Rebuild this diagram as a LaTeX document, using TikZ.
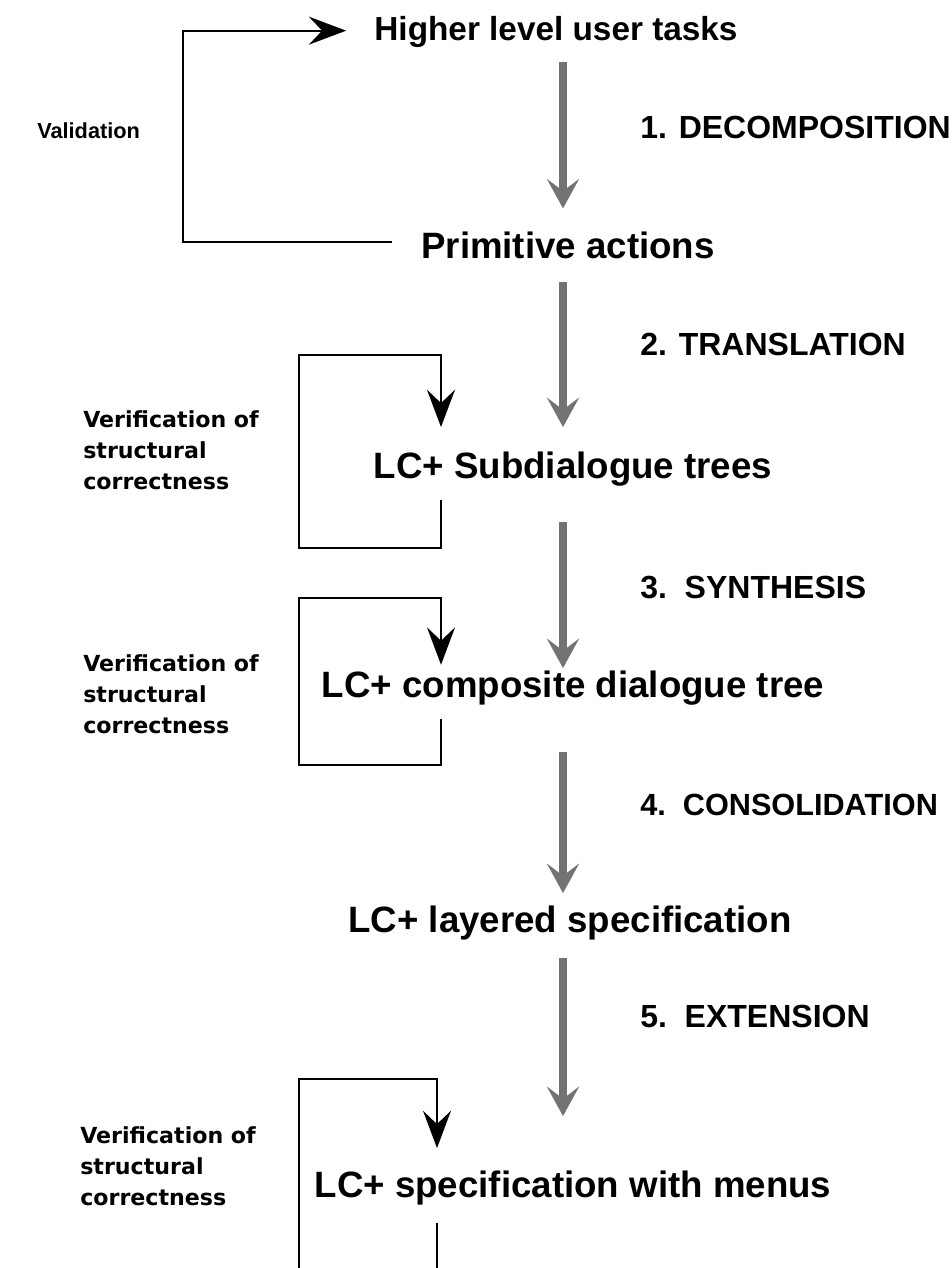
\documentclass[tikz,border=0pt]{standalone}
\usepackage{fontspec}
\setmainfont{Liberation Sans}
\newfontfamily\widefont{DejaVu Sans}
\usetikzlibrary{arrows.meta}

\begin{document}
\begin{tikzpicture}[x=0.75pt, y=-0.75pt,
    level/.style={inner sep=0pt, text height=20pt, text depth=6pt, anchor=base,
        font=\fontsize{27.5}{33}\selectfont\bfseries},
    phase/.style={inner sep=0pt, anchor=base west, font=\fontsize{24}{29}\selectfont\bfseries},
    remark/.style={inner sep=0pt, anchor=west, align=left,
        font=\widefont\fontsize{16.6}{23.25}\selectfont\bfseries},
    flow/.style={draw=black!55, line width=6pt, -{Stealth[length=22pt, width=24pt, inset=9pt]}},
    check/.style={draw=black, line width=1.6pt, -{Stealth[length=28pt, width=21pt, inset=10pt]}}
]
    \path[use as bounding box, clip] (0,0) rectangle (952,1268);

    \node[level, font=\fontsize{25}{30}\selectfont\bfseries] (hi) at (556,40) {Higher level user tasks};
    \node[level] (prim) at (568,258) {Primitive actions};
    \node[level] (sub) at (573,478) {LC+ Subdialogue trees};
    \node[level] (comp) at (573,697) {LC+ composite dialogue tree};
    \node[level] (lay) at (570,932) {LC+ layered specification};
    \node[level] (menu) at (573,1197) {LC+ specification with menus};

    \node[phase] (p1) at (640,138) {1. DECOMPOSITION};
    \node[phase] (p2) at (640,355) {2. TRANSLATION};
    \node[phase] (p3) at (640,598) {3.\ \ SYNTHESIS};
    \node[phase, font=\fontsize{23}{28}\selectfont\bfseries] (p4) at (640,815) {4.\ \ CONSOLIDATION};
    \node[phase] (p5) at (640,1027) {5.\ \ EXTENSION};

    \node[inner sep=0pt, anchor=base west, font=\fontsize{16.3}{20}\selectfont\bfseries] (val) at (37,138) {Validation};
    \node[remark] (v1) at (83,450) {Verification of\\structural\\correctness};
    \node[remark] (v2) at (83,694) {Verification of\\structural\\correctness};
    \node[remark] (v3) at (80,1166) {Verification of\\structural\\correctness};

    \coordinate (spine) at (563,0);
    \coordinate (t1) at (441,355);
    \coordinate (t2) at (441,598);
    \coordinate (t3) at (437,1079);

    \foreach \a/\b/\s/\e in {hi/prim/10/17, prim/sub/12/18, sub/comp/27/1.5, comp/lay/35/9, lay/menu/13.5/40.5}
        \draw[flow, shorten <=\s pt, shorten >=\e pt] (\a.south -| spine) -- (\b.north -| spine);

    \draw[check, shorten <=22pt, shorten >=21pt] ([yshift=5pt]prim.west) -| (183,130) |- (hi.west);
    \draw[check, shorten <=10.5pt, shorten >=18pt] (sub.south -| t1) |- (299,548) |- (t1) -- (sub.north -| t1);
    \draw[check, shorten <=10pt, shorten >=4pt] (comp.south -| t2) |- (299,765) |- (t2) -- (comp.north -| t2);
    \draw[check, shorten <=13.5pt, shorten >=16.5pt] (menu.south -| t3) |- (299,1300) |- (t3) -- (menu.north -| t3);
\end{tikzpicture}
\end{document}
